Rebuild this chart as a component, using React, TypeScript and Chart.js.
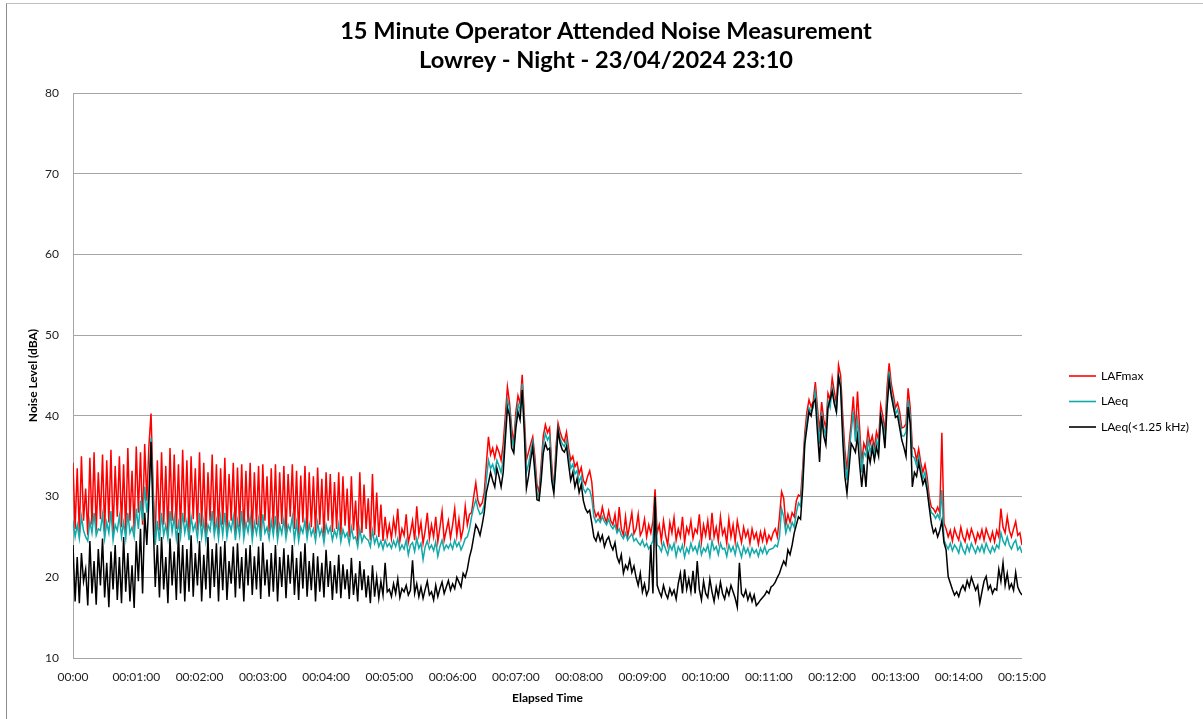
import { useEffect, useRef } from 'react';
import { Chart, registerables } from 'chart.js';

Chart.register(...registerables);

const TITLE_LINES = ['15 Minute Operator Attended Noise Measurement', 'Lowrey - Night - 23/04/2024 23:10'];
const X_TITLE = 'Elapsed Time';
const Y_TITLE = 'Noise Level (dBA)';
const SAMPLE_STEP_S = 2;
const X_TICK_LABELS = ['00:00', '00:01:00', '00:02:00', '00:03:00', '00:04:00', '00:05:00', '00:06:00', '00:07:00', '00:08:00', '00:09:00', '00:10:00', '00:11:00', '00:12:00', '00:13:00', '00:14:00', '00:15:00'];
const Y_MIN = 10;
const Y_MAX = 80;
const Y_STEP = 10;
const SERIES_NAMES = ['LAFmax', 'LAeq', 'LAeq(<1.25 kHz)'];
const SERIES_COLORS = ['#ff0000', '#12a9a9', '#000000'];

const LAFMAX = [
  34.2, 26.0, 33.5, 25.5, 35.0, 27.0, 31.0, 25.2, 34.8, 26.5, 35.5, 25.8, 33.0, 27.2, 35.2,
  25.6, 34.5, 26.8, 35.8, 25.4, 33.8, 27.5, 35.0, 26.2, 34.0, 25.5, 36.0, 27.0, 33.2, 25.8,
  36.2, 28.0, 35.5, 26.5, 36.5, 29.5, 36.3, 40.3, 31.0, 25.0,
  34.5, 25.8, 35.5, 26.5, 33.8, 25.2, 36.0, 27.0, 35.2, 26.0, 34.0, 25.5, 35.8, 26.8, 34.5,
  25.6, 35.0, 27.2, 33.5, 25.8, 35.5, 26.3, 34.2, 25.0, 33.0, 27.0, 35.2, 26.0, 34.0, 25.4,
  33.5, 26.5, 34.8, 25.8, 32.8, 27.0, 34.2, 25.5, 33.6, 26.2, 34.0, 25.3, 33.2, 26.8, 34.2,
  25.4, 33.0, 26.5, 33.8, 25.0, 34.0, 27.0, 32.5, 25.6, 33.5, 26.0, 34.0, 25.2, 33.0, 26.6,
  33.8, 25.5, 32.8, 27.5, 34.0, 26.0, 33.2, 25.3, 32.6, 26.8, 33.8, 25.5, 33.0, 26.2, 32.5,
  25.4, 33.6, 26.5, 32.2, 25.0, 33.0, 27.0, 32.8, 25.6, 31.8, 26.0, 33.0, 25.2, 32.5, 26.4,
  31.0, 25.0, 32.5, 25.8, 29.5, 24.5, 33.0, 25.5, 31.5, 26.0, 29.8, 24.6, 32.8, 25.2, 30.5,
  25.0, 29.0, 24.5, 27.5, 25.0,
  26.5, 24.8, 27.2, 25.5, 28.5, 24.5, 26.0, 25.2, 27.8, 24.3, 25.5, 27.0, 24.6, 28.8, 25.3,
  26.8, 24.2, 25.8, 28.0, 24.8, 26.5, 25.0, 27.5, 24.4, 26.2, 28.2, 24.6, 25.8, 27.0, 24.9,
  26.5, 28.5, 25.2, 27.2, 24.8, 26.0, 28.8, 26.5, 27.8,
  28.0, 30.0, 31.7, 29.5, 28.8, 29.2, 30.5, 34.0, 37.4, 35.2, 36.0, 34.8, 36.2, 35.5, 34.5, 36.5,
  40.0, 43.6, 41.6, 38.5, 36.6, 40.5, 42.5, 41.5, 45.1, 40.0, 34.5, 35.5, 36.5, 37.4, 35.0, 31.5,
  30.5, 34.0, 37.5, 38.9, 37.9, 38.5, 34.0, 30.8, 36.0, 39.1, 38.0, 37.2, 36.8, 38.0,
  36.0, 34.5, 35.0, 33.7, 34.2, 32.8, 33.6, 32.0, 31.5, 32.5, 33.2, 31.8, 28.5, 27.5,
  28.0, 27.2, 28.7, 27.5, 26.8, 28.2, 27.0, 26.5, 27.8,
  25.5, 28.7, 26.0, 25.2, 27.5, 25.0, 26.5, 28.0, 25.4,
  26.0, 27.8, 25.2, 25.8, 27.2, 25.0, 26.5, 25.5,
  27.0, 30.9, 25.5,
  26.5, 24.5, 27.0, 25.2, 24.0, 26.8, 25.5, 27.4, 24.6, 26.0, 25.0, 27.5, 24.3, 26.2, 25.4, 27.0, 24.8, 26.0,
  25.5, 27.8, 24.4, 26.5, 25.2, 27.0, 24.6, 28.0, 25.0, 26.2, 24.5, 27.5, 25.3, 26.0, 24.2,
  27.2, 25.0, 26.5, 24.4, 27.0, 25.6, 24.3, 26.2, 25.0, 25.8, 24.2, 26.0, 24.8, 25.5, 24.1,
  25.6, 24.5, 25.8, 24.3, 25.2, 24.6,
  25.5, 26.0, 25.0, 27.5, 30.6, 29.8, 26.5, 27.8, 26.8, 28.0, 27.5, 29.5, 30.2, 30.0,
  33.5, 37.9, 40.5, 42.0, 41.1, 41.8, 44.2, 41.0, 38.0, 41.7,
  39.5, 38.5, 42.8, 42.0, 44.7, 43.0, 41.5, 46.3, 45.0, 40.0,
  35.8, 33.3, 36.5, 39.1, 42.4, 37.9, 43.0, 38.5, 34.2, 36.6,
  35.8, 38.2, 36.5, 37.5, 36.0, 38.0, 37.0, 41.3, 40.0, 38.0,
  43.5, 46.5, 44.0, 42.6, 41.0, 41.6, 40.5, 38.5, 38.6, 39.0,
  43.4, 41.0, 36.1, 35.9, 34.5, 35.9, 34.2, 33.0, 34.0, 32.5,
  30.0, 28.7, 28.5, 28.0, 28.7, 28.0, 37.9, 26.7, 26.0,
  25.0, 25.8, 24.5, 26.0, 25.2, 24.6, 26.2, 25.0, 24.4, 25.8, 24.8, 26.0, 25.2, 24.3, 25.5,
  24.8, 25.9, 24.6, 26.0, 25.2, 24.5, 25.6, 24.4, 25.8, 25.0, 28.5, 26.2, 25.5, 27.5, 25.8,
  25.0, 26.0, 26.9, 25.2, 25.5, 24.0,
];

const LAEQ = [
  27.0, 25.0, 26.5, 24.8, 27.5, 25.8, 25.0, 24.5, 27.0, 25.5, 28.0, 25.2, 26.0, 25.8, 27.8,
  24.8, 26.8, 25.5, 28.2, 24.6, 26.5, 25.8, 27.6, 25.0, 26.8, 24.8, 28.0, 25.5, 26.2, 25.0,
  28.5, 26.0, 29.5, 27.0, 31.2, 28.0, 30.5, 37.3, 30.0, 24.0,
  27.0, 24.5, 28.0, 25.2, 26.5, 24.8, 28.2, 25.6, 27.5, 24.8, 26.8, 25.0, 28.0, 25.5, 27.0,
  24.6, 27.5, 25.8, 26.6, 24.8, 28.0, 25.0, 27.0, 24.5, 26.5, 25.8, 28.2, 25.2, 27.0, 24.8,
  27.5, 25.2, 28.0, 25.0, 26.8, 25.8, 27.5, 24.6, 27.0, 25.2, 28.2, 24.8, 26.8, 25.6, 27.5,
  24.6, 26.8, 25.4, 27.2, 24.5, 27.8, 25.5, 26.2, 24.8, 27.0, 25.2, 27.6, 24.6, 26.5, 25.4,
  27.2, 24.8, 26.5, 25.8, 27.5, 24.6, 26.8, 24.5, 26.2, 25.5, 27.0, 24.8, 26.6, 25.2, 26.0,
  24.5, 26.8, 25.2, 26.0, 24.3, 26.5, 25.5, 26.2, 24.6, 25.8, 25.0, 26.6, 24.4, 25.9, 25.0,
  25.5, 24.2, 26.2, 24.8, 25.0, 23.8, 26.0, 24.4, 25.2, 24.8, 24.6, 23.8, 25.8, 24.2, 25.0,
  23.8, 24.5, 23.5, 24.6, 23.8,
  24.2, 23.6, 24.5, 23.8, 24.8, 23.4, 24.0, 23.5, 24.6, 22.8, 24.0, 24.3, 23.2, 24.8, 23.6,
  24.2, 22.2, 23.8, 24.5, 23.5, 24.0, 23.3, 24.4, 22.6, 23.8, 24.6, 23.4, 24.0, 23.6, 24.2,
  23.5, 24.6, 23.8, 24.3, 23.4, 24.0, 24.8, 25.0, 26.0,
  27.5, 28.7, 29.6, 28.5, 27.8, 28.0, 29.0, 32.0, 34.5, 33.5, 34.0, 33.0, 34.5, 33.8, 33.0, 34.5,
  38.5, 42.0, 41.0, 37.5, 36.0, 39.5, 41.5, 40.5, 44.0, 39.0, 33.0, 34.0, 35.5, 36.8, 34.0, 30.5,
  29.8, 33.0, 36.5, 37.8, 37.0, 37.5, 33.0, 30.6, 35.0, 38.5, 37.2, 36.5, 36.2, 37.0,
  35.2, 33.5, 34.0, 32.8, 33.2, 31.8, 32.5, 31.0, 30.5, 31.0, 30.8, 29.8, 27.5, 26.8,
  27.2, 26.8, 27.5, 26.9, 26.5, 27.2, 26.4, 26.0, 26.5,
  25.5, 26.0, 25.2, 24.8, 25.5, 24.6, 25.0, 25.4, 24.5,
  24.8, 24.3, 24.0, 24.6, 23.8, 24.2, 23.5, 24.0,
  24.5, 29.6, 24.0,
  23.8, 23.2, 24.3, 23.5, 22.8, 24.0, 23.4, 24.2, 22.6, 23.8, 23.2, 24.0, 22.5, 23.6, 23.0, 24.2, 23.3, 23.8,
  23.0, 24.3, 22.8, 23.6, 23.2, 24.0, 22.6, 24.5, 23.4, 23.8, 22.8, 24.2, 23.5, 23.6, 22.6,
  24.0, 23.2, 23.8, 22.8, 24.2, 23.4, 22.5, 23.8, 23.0, 23.6, 22.6, 23.6, 23.0, 23.4, 22.6,
  23.6, 23.0, 23.8, 22.9, 23.4, 23.5,
  23.6, 24.0, 23.8, 25.0, 28.5, 27.5, 25.5, 26.5, 25.8, 26.8, 26.2, 28.0, 29.2, 28.8,
  32.5, 37.0, 39.5, 41.0, 40.5, 41.0, 43.0, 40.0, 36.5, 40.5,
  38.5, 37.5, 41.8, 41.0, 43.5, 42.0, 40.5, 45.0, 44.0, 38.5,
  34.5, 32.0, 35.5, 38.0, 40.5, 36.8, 39.5, 37.0, 33.0, 35.5,
  35.0, 37.0, 35.5, 36.5, 35.2, 37.0, 36.0, 40.2, 39.0, 37.0,
  42.0, 45.5, 43.0, 41.8, 40.2, 40.8, 39.5, 37.5, 37.5, 38.0,
  42.0, 40.0, 35.0, 34.8, 33.8, 35.0, 33.5, 32.2, 33.0, 31.5,
  29.0, 28.0, 27.8, 27.3, 27.8, 27.2, 30.8, 24.6, 24.0,
  23.5, 24.2, 23.3, 24.0, 23.6, 23.0, 24.3, 23.4, 22.9, 24.0, 23.2, 24.2, 23.6, 23.0, 23.8,
  23.2, 24.0, 23.1, 24.2, 23.5, 23.0, 23.8, 23.2, 24.0, 23.6, 25.5, 24.5, 24.0, 25.0, 24.0,
  23.5, 24.2, 24.6, 23.4, 23.8, 23.0,
];

const LAEQ_LOW = [
  24.0, 17.0, 22.5, 16.8, 23.0, 19.5, 21.0, 16.5, 24.5, 18.0, 22.0, 16.6, 23.5, 19.0, 24.8,
  17.5, 21.8, 16.3, 23.2, 18.5, 24.0, 17.2, 22.5, 16.8, 25.0, 18.2, 23.0, 17.0, 21.5, 16.2,
  24.5, 19.5, 26.0, 18.0, 28.0, 24.0, 29.6, 36.8, 27.0, 18.8,
  24.0, 17.5, 25.0, 18.5, 22.5, 16.8, 24.8, 19.0, 23.2, 17.2, 25.5, 18.0, 24.0, 17.0, 23.5,
  18.2, 25.2, 17.6, 23.0, 19.0, 24.5, 17.0, 22.8, 18.5, 25.0, 17.4, 23.5, 18.8, 24.2, 17.0,
  23.8, 18.4, 24.5, 17.2, 22.0, 19.2, 23.8, 17.5, 24.2, 18.6, 22.5, 17.0, 23.6, 19.0, 24.0,
  17.8, 22.6, 18.5, 23.8, 17.3, 24.3, 19.0, 22.2, 17.6, 23.0, 18.2, 24.0, 17.0, 22.5, 18.8,
  23.6, 17.4, 22.8, 19.2, 24.0, 17.8, 22.4, 17.2, 23.2, 18.6, 24.2, 17.6, 22.0, 18.4, 23.0,
  17.0, 22.6, 18.2, 21.8, 17.5, 23.4, 18.8, 22.0, 17.2, 21.5, 18.0, 22.8, 17.4, 21.6, 18.5,
  21.0, 17.3, 22.4, 17.8, 20.5, 17.0, 22.0, 18.4, 21.0, 17.5, 20.2, 16.8, 21.5, 17.6, 20.0,
  17.4, 19.5, 17.8, 21.8, 18.2,
  18.5, 17.6, 19.2, 18.0, 19.8, 17.5, 18.6, 18.2, 19.0, 17.8, 18.4, 22.1, 18.0, 19.2, 17.6,
  18.8, 17.4, 18.5, 19.5, 17.8, 18.2, 17.2, 19.0, 17.6, 18.6, 19.4, 18.0, 18.8, 19.6, 18.4,
  19.2, 18.6, 20.0, 19.4, 18.8, 20.5, 20.0, 21.0, 22.5,
  23.5, 25.0, 26.5, 26.0, 25.2, 26.5, 28.0, 30.5, 31.7, 33.0, 32.0, 31.2, 33.5, 32.5, 31.2, 33.0,
  37.0, 41.0, 40.0, 36.0, 35.4, 38.5, 40.5, 39.5, 43.2, 38.0, 31.0, 32.5, 34.5, 36.1, 33.0, 29.6,
  29.5, 32.0, 35.4, 36.6, 35.8, 36.0, 32.0, 30.4, 34.0, 38.2, 36.6, 35.8, 35.5, 36.2,
  34.0, 32.0, 33.0, 31.2, 32.2, 30.5, 31.5, 29.5, 28.5, 28.0, 28.3, 26.7, 25.0, 24.5,
  25.5, 24.5, 25.2, 23.8, 24.6, 25.0, 24.0, 23.4, 24.3,
  22.5, 21.8, 22.8, 20.5, 21.5, 21.0, 22.2, 20.6, 21.4,
  20.0, 19.0, 20.5, 18.2, 19.2, 17.8, 18.5, 24.0,
  18.0, 30.0, 19.0,
  18.2, 17.6, 19.0, 18.0, 17.4, 18.6, 17.8, 18.4, 17.3, 19.2, 20.5, 18.0, 21.0, 18.5, 19.8, 18.2, 20.8, 18.0,
  22.0, 18.5, 17.2, 19.5, 18.0, 17.5, 19.8, 18.2, 17.0, 18.8, 17.6, 19.4, 18.0, 17.3, 18.6,
  17.8, 19.0, 18.2, 17.4, 16.3, 21.8, 18.0, 17.6, 18.4, 17.2, 18.0, 17.0, 17.8, 16.5, 16.8,
  17.2, 17.5, 17.8, 18.3, 18.0, 18.8,
  19.0, 19.4, 20.0, 20.5, 21.3, 22.0, 21.5, 23.4, 22.8, 24.0, 25.5, 26.5, 27.5, 27.2,
  31.0, 36.5, 38.5, 40.5, 40.0, 41.6, 42.0, 38.0, 34.3, 40.0,
  37.5, 36.4, 41.0, 42.0, 43.0, 41.5, 40.5, 44.8, 43.5, 37.0,
  32.5, 30.4, 33.5, 36.6, 36.1, 35.5, 37.5, 34.0, 31.2, 34.0,
  31.2, 35.5, 34.2, 36.0, 34.5, 36.1, 35.0, 40.0, 38.5, 36.0,
  41.0, 44.4, 42.5, 41.1, 39.8, 40.0, 38.5, 37.0, 36.1, 35.0,
  41.1, 39.0, 31.2, 33.0, 32.5, 34.2, 32.8, 31.5, 32.2, 30.8,
  28.7, 26.7, 25.5, 26.0, 25.0, 25.8, 27.0, 24.3, 23.4,
  20.1, 19.3, 18.5, 17.8, 18.2, 17.6, 18.5, 19.0, 18.4, 19.6, 18.8, 20.0, 19.2, 18.4, 19.0,
  16.8, 18.2, 19.5, 20.1, 18.5, 19.0, 18.0, 18.6, 18.4, 21.0, 19.5, 21.8, 19.0, 20.5, 18.6,
  19.2, 18.4, 20.6, 18.8, 18.2, 17.8,
];

const FONT = 'Lato, "Liberation Sans", sans-serif';

const toPoints = (values: number[]) => values.map((y, i) => ({ x: i * SAMPLE_STEP_S, y }));

const sideLegend = {
  id: 'sideLegend',
  afterDraw(chart: any) {
    const { ctx, chartArea } = chart;
    const x0 = chartArea.right + 47;
    ctx.save();
    chart.data.datasets.forEach((ds: any, i: number) => {
      const y = 376 + i * 25.5;
      ctx.strokeStyle = ds.borderColor;
      ctx.lineWidth = 1.6;
      ctx.beginPath();
      ctx.moveTo(x0, y);
      ctx.lineTo(x0 + 27, y);
      ctx.stroke();
      ctx.fillStyle = '#000';
      ctx.font = `12px ${FONT}`;
      ctx.textBaseline = 'middle';
      ctx.textAlign = 'left';
      ctx.fillText(ds.label, x0 + 32, y);
    });
    ctx.restore();
  },
};

export default function App() {
  const ref = useRef<HTMLCanvasElement | null>(null);

  useEffect(() => {
    if (!ref.current) return;
    const series = [LAFMAX, LAEQ, LAEQ_LOW];
    const chart = new Chart(ref.current, {
      type: 'line',
      data: {
        datasets: series.map((vals, i) => ({
          label: SERIES_NAMES[i],
          data: toPoints(vals),
          borderColor: SERIES_COLORS[i],
          backgroundColor: SERIES_COLORS[i],
          borderWidth: 1.5,
          pointRadius: 0,
          tension: 0,
          order: 3 - i,
          yAxisID: 'y',
        })),
      },
      options: {
        responsive: false,
        animation: false,
        devicePixelRatio: 1,
        parsing: false as any,
        layout: { padding: { left: 9, right: 0, top: 0, bottom: 0 } },
        plugins: {
          legend: { display: false },
          tooltip: { enabled: false },
          title: {
            display: true,
            text: TITLE_LINES,
            color: '#000',
            font: { family: FONT, size: 23.6, weight: 'bold', lineHeight: 1.25 },
            padding: { top: 16.5, bottom: 17.5 },
          },
        },
        scales: {
          x: {
            type: 'linear',
            min: 0,
            max: X_TICK_LABELS.length * 60 - 60,
            afterFit: (s: any) => { s.height = 61; },
            grid: { display: false },
            border: { display: false },
            ticks: {
              stepSize: 60,
              autoSkip: false,
              maxRotation: 0,
              padding: 4,
              color: '#222',
              font: { family: FONT, size: 12 },
              callback: (v: any) => X_TICK_LABELS[Math.round(Number(v) / 60)] ?? '',
            },
            title: {
              display: true,
              text: X_TITLE,
              color: '#000',
              font: { family: FONT, size: 12, weight: 'bold' },
              padding: { top: 0, bottom: 13.8 },
            },
          },
          y: {
            min: Y_MIN,
            max: Y_MAX,
            afterFit: (s: any) => { s.width = 64; },
            grid: { color: '#a6a6a6', drawTicks: false, lineWidth: 1 },
            border: { display: true, color: '#a6a6a6' },
            ticks: {
              stepSize: Y_STEP,
              padding: 14,
              color: '#222',
              font: { family: FONT, size: 12 },
            },
            title: {
              display: true,
              text: Y_TITLE,
              color: '#000',
              font: { family: FONT, size: 12, weight: 'bold' },
              padding: { top: 16.8, bottom: 0 },
            },
          },
          legendSpace: {
            type: 'linear',
            position: 'right',
            display: true,
            afterFit: (s: any) => { s.width = 181; },
            grid: { display: false, drawOnChartArea: false },
            border: { display: false },
            ticks: { display: false },
          },
        },
      },
      plugins: [sideLegend],
    } as any);
    return () => chart.destroy();
  }, []);

  return (
    <div style={{ position: 'fixed', left: 0, top: 0, width: 1203, height: 719, overflow: 'hidden', background: '#fff' }}>
      <div
        style={{
          position: 'absolute', left: 6, top: 3, width: 1300, height: 800,
          borderTop: '1px solid #bfbfbf', borderLeft: '1px solid #8c8c8c',
        }}
      />
      <canvas ref={ref} width={1203} height={719} style={{ position: 'absolute', left: 0, top: 0, display: 'block' }} />
    </div>
  );
}
